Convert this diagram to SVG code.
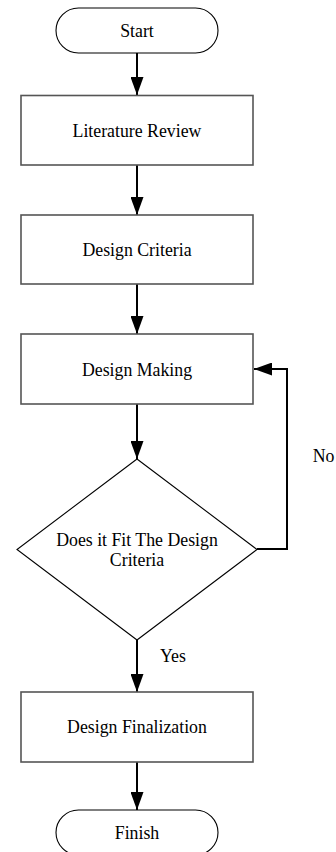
<svg xmlns="http://www.w3.org/2000/svg" width="336" height="852" viewBox="0 0 336 852" font-family="'Liberation Serif', 'Times New Roman', Tinos, 'DejaVu Serif', serif">
<style>
text{font-family:'Liberation Serif','Times New Roman',Tinos,'DejaVu Serif',serif;font-size:17.8px;fill:#000;}
.c{text-anchor:middle;}
.box{fill:#fff;stroke:#555;stroke-width:1.6;}
.term{fill:#fff;stroke:#000;stroke-width:1.1;}
.dec{fill:#fff;stroke:#000;stroke-width:1.1;}
.conn{fill:none;stroke:#000;stroke-width:2;}
</style>
<defs>
<marker id="arr" markerWidth="18" markerHeight="13" refX="18" refY="6.5" orient="auto" markerUnits="userSpaceOnUse">
<path d="M0,0 L18,6.5 L0,13 Z" fill="#000"/>
</marker>
</defs>
<rect width="336" height="852" fill="#fff"/>
<g id="connectors">
<line class="conn" x1="137" y1="53" x2="137" y2="95" marker-end="url(#arr)"/>
<line class="conn" x1="137" y1="165" x2="137" y2="215" marker-end="url(#arr)"/>
<line class="conn" x1="137" y1="284" x2="137" y2="334" marker-end="url(#arr)"/>
<line class="conn" x1="137" y1="404" x2="137" y2="459" marker-end="url(#arr)"/>
<polyline class="conn" points="257,549 287,549 287,369 254,369" marker-end="url(#arr)"/>
<line class="conn" x1="137" y1="640" x2="137" y2="692" marker-end="url(#arr)"/>
<line class="conn" x1="137" y1="762" x2="137" y2="810" marker-end="url(#arr)"/>
<text x="312.7" y="462">No</text>
<text x="160" y="662">Yes</text>
</g>
<g id="start">
<rect class="term" x="56" y="8" width="162" height="45" rx="22.5" ry="22.5"/>
<text class="c" x="137" y="36.5">Start</text>
</g>
<g id="literature-review">
<rect class="box" x="21" y="95.5" width="232" height="69.5"/>
<text class="c" x="137" y="136.5">Literature Review</text>
</g>
<g id="design-criteria">
<rect class="box" x="21" y="215" width="232" height="69"/>
<text class="c" x="137" y="255.5">Design Criteria</text>
</g>
<g id="design-making">
<rect class="box" x="21" y="334" width="232" height="70"/>
<text class="c" x="137" y="375.5">Design Making</text>
</g>
<g id="decision">
<polygon class="dec" points="137,459 257,549.5 137,640 17,549.5"/>
<text class="c" x="137" y="546">Does it Fit The Design</text>
<text class="c" x="137" y="565.5">Criteria</text>
</g>
<g id="design-finalization">
<rect class="box" x="21" y="692" width="232" height="70"/>
<text class="c" x="137" y="733">Design Finalization</text>
</g>
<g id="finish">
<rect class="term" x="56" y="810" width="162" height="45" rx="22.5" ry="22.5"/>
<text class="c" x="137" y="838.5">Finish</text>
</g>
</svg>
